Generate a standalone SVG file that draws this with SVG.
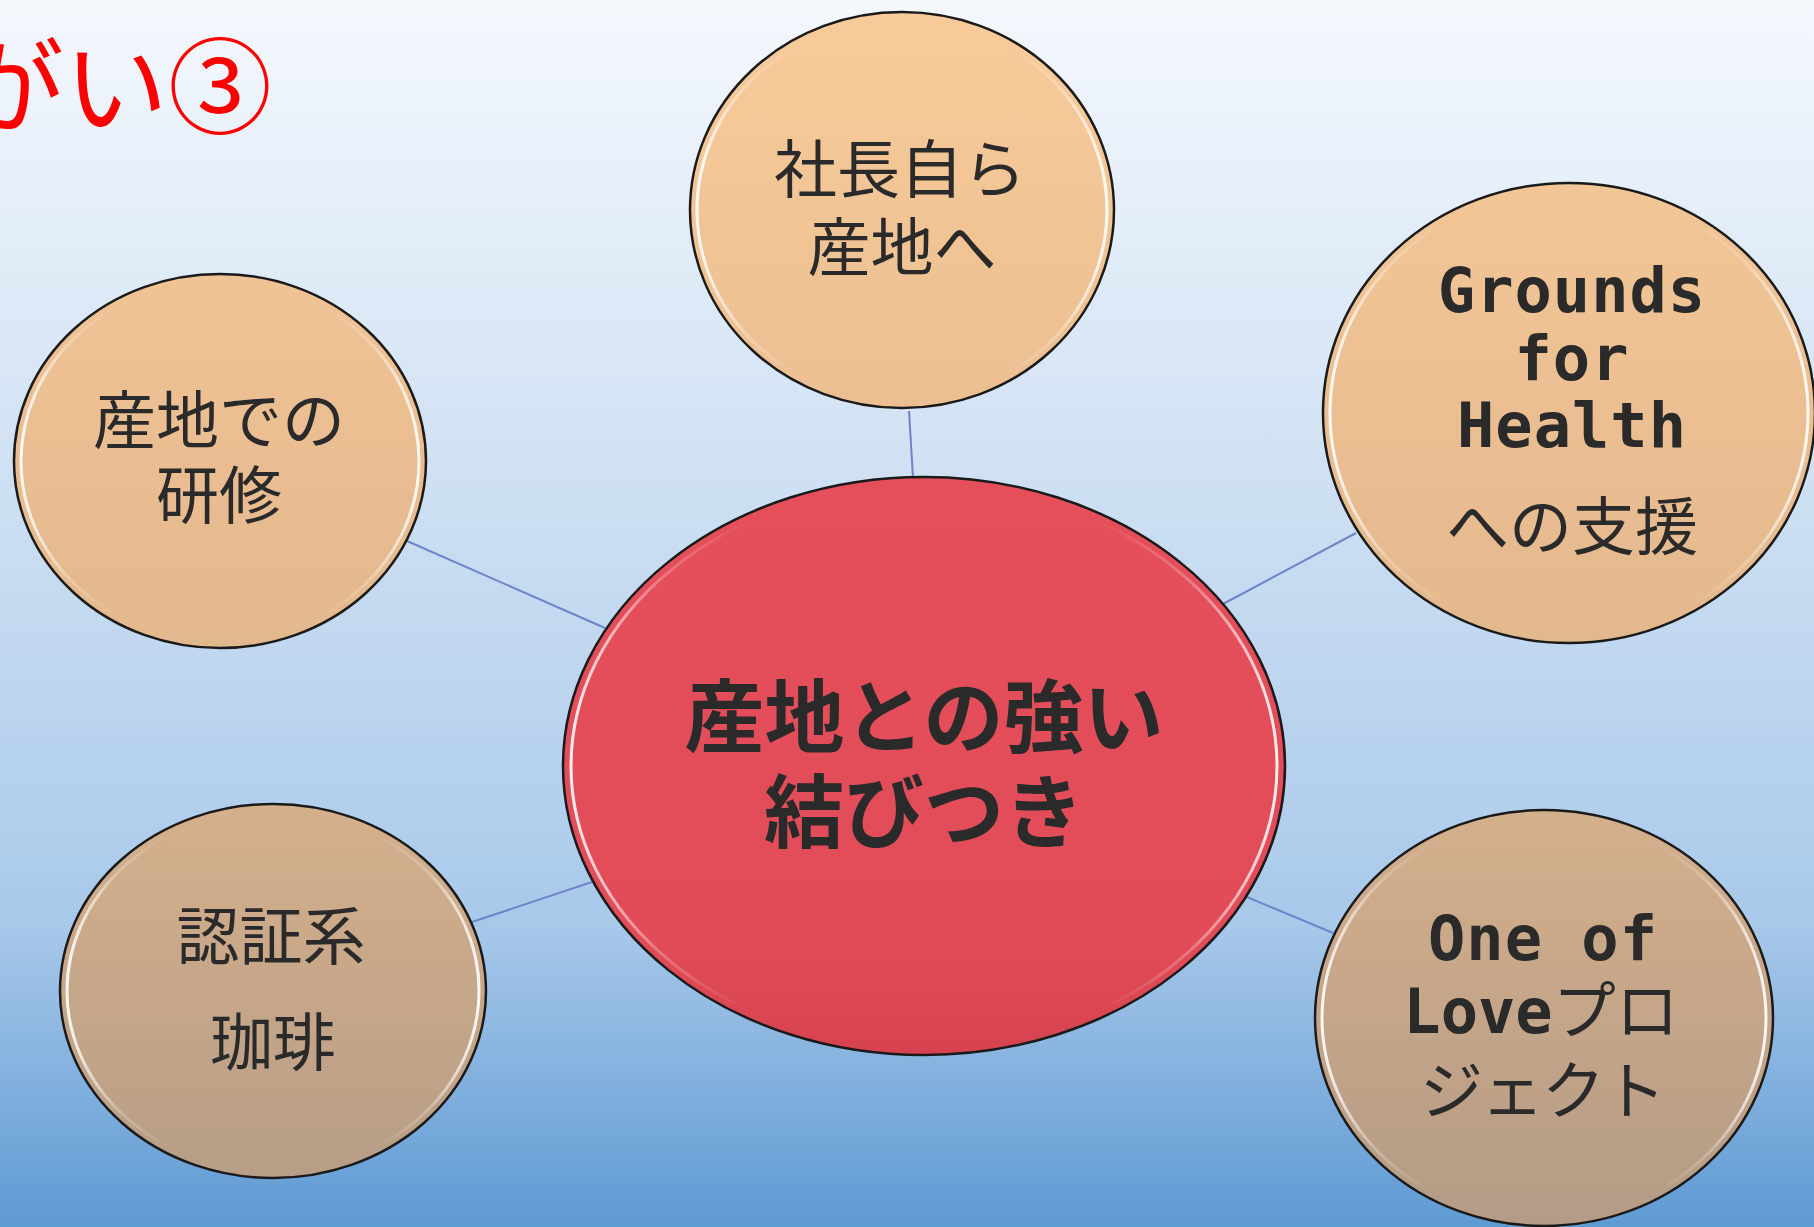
<svg xmlns="http://www.w3.org/2000/svg" width="1814" height="1227" viewBox="0 0 1814 1227">
<defs>
<linearGradient id="bg" x1="0" y1="0" x2="0" y2="1227" gradientUnits="userSpaceOnUse">
<stop offset="0" stop-color="#f5f8fd"/>
<stop offset="0.35" stop-color="#d3e3f4"/>
<stop offset="0.75" stop-color="#a9c9ea"/>
<stop offset="1" stop-color="#5e9ad3"/>
</linearGradient>
<linearGradient id="peach" x1="0" y1="0" x2="0" y2="1227" gradientUnits="userSpaceOnUse">
<stop offset="0" stop-color="#f9cb9a"/>
<stop offset="0.5" stop-color="#e4b98e"/>
<stop offset="1" stop-color="#b39b86"/>
</linearGradient>
<linearGradient id="red" x1="0" y1="0" x2="0" y2="1">
<stop offset="0" stop-color="#e54f5b"/>
<stop offset="0.8" stop-color="#e24c59"/>
<stop offset="1" stop-color="#d6424f"/>
</linearGradient>
<linearGradient id="gloss" x1="0" y1="0" x2="1" y2="0">
<stop offset="0" stop-color="#ffffff" stop-opacity="0.9"/>
<stop offset="0.12" stop-color="#ffffff" stop-opacity="0.25"/>
<stop offset="0.25" stop-color="#ffffff" stop-opacity="0"/>
<stop offset="0.75" stop-color="#ffffff" stop-opacity="0"/>
<stop offset="0.88" stop-color="#ffffff" stop-opacity="0.25"/>
<stop offset="1" stop-color="#ffffff" stop-opacity="0.9"/>
</linearGradient>
<style>
.sat{fill:url(#peach);stroke:#1a1a1a;stroke-width:2.5}
.ctr{fill:url(#red);stroke:#1a1a1a;stroke-width:2.5}
.hl{fill:none;stroke:url(#gloss);stroke-width:3}
.jp{font-family:"Noto Sans CJK JP","Noto Sans",sans-serif;font-size:63px;fill:#2a2a2a;text-anchor:middle}
.mono{font-family:"DejaVu Sans Mono","Liberation Mono","Noto Sans CJK JP",monospace;font-weight:bold;font-size:62px;fill:#2a2a2a;text-anchor:middle}
.big{font-family:"Noto Sans CJK JP",sans-serif;font-weight:bold;font-size:80px;fill:#2a2a2a;text-anchor:middle}
.conn{stroke:#6f84c9;stroke-width:2;fill:none}
</style>
</defs>
<rect x="0" y="0" width="1814" height="1227" fill="url(#bg)"/>
<text x="272" y="126" font-family="Noto Sans CJK JP, sans-serif" font-size="104" fill="#ff0000" text-anchor="end">がい③</text>
<g id="connectors">
<line class="conn" x1="909" y1="411" x2="913" y2="478"/>
<line class="conn" x1="407" y1="541" x2="605" y2="628"/>
<line class="conn" x1="1356" y1="533" x2="1223" y2="604"/>
<line class="conn" x1="472" y1="922" x2="592" y2="882"/>
<line class="conn" x1="1247" y1="897" x2="1333" y2="933"/>
</g>
<g id="node-top">
<ellipse class="sat" cx="902" cy="210" rx="212" ry="198"/>
<ellipse class="hl" cx="902" cy="210" rx="205" ry="191"/>
<text class="jp" x="900" y="192">社長自ら</text>
<text class="jp" x="902" y="270">産地へ</text>
</g>
<g id="node-left">
<ellipse class="sat" cx="220" cy="461" rx="206" ry="187"/>
<ellipse class="hl" cx="220" cy="461" rx="199" ry="180"/>
<text class="jp" x="219" y="443">産地での</text>
<text class="jp" x="219" y="518">研修</text>
</g>
<g id="node-grounds">
<ellipse class="sat" cx="1569" cy="413" rx="246" ry="230"/>
<ellipse class="hl" cx="1569" cy="413" rx="239" ry="223"/>
<text class="mono" x="1572" y="312" letter-spacing="1">Grounds</text>
<text class="mono" x="1572" y="380" letter-spacing="1">for</text>
<text class="mono" x="1572" y="447" letter-spacing="1">Health</text>
<text class="jp" x="1572" y="549">への支援</text>
</g>
<g id="node-cert">
<ellipse class="sat" cx="273" cy="991" rx="213" ry="187"/>
<ellipse class="hl" cx="273" cy="991" rx="206" ry="180"/>
<text class="jp" x="271" y="959">認証系</text>
<text class="jp" x="273" y="1065">珈琲</text>
</g>
<g id="node-love">
<ellipse class="sat" cx="1544" cy="1018" rx="229" ry="208"/>
<ellipse class="hl" cx="1544" cy="1018" rx="222" ry="201"/>
<text class="mono" x="1543" y="960" letter-spacing="1">One of</text>
<text x="1541" y="1033" text-anchor="middle" fill="#2a2a2a"><tspan font-family="DejaVu Sans Mono, monospace" font-weight="bold" font-size="62">Love</tspan><tspan font-family="Noto Sans CJK JP, sans-serif" font-size="63">プロ</tspan></text>
<text class="jp" x="1542" y="1113" letter-spacing="-2">ジェクト</text>
</g>
<g id="node-center">
<ellipse class="ctr" cx="924" cy="766" rx="361" ry="289"/>
<ellipse class="hl" cx="924" cy="766" rx="353" ry="281"/>
<text class="big" x="924" y="746">産地との強い</text>
<text class="big" x="924" y="841">結びつき</text>
</g>
</svg>
